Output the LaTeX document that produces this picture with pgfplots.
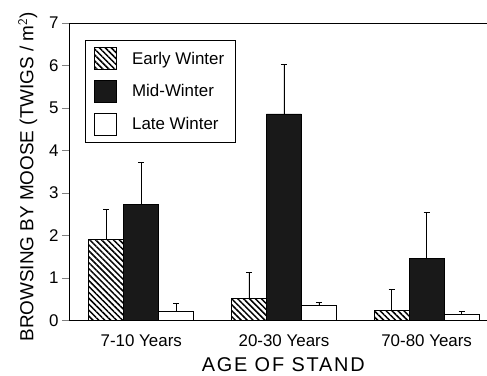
\documentclass[border=0pt]{standalone}
\usepackage{fontspec}
\setmainfont{Liberation Sans}
\usepackage{pgfplots}
\usepackage{pgfplotstable}
\pgfplotsset{compat=1.18}
\usetikzlibrary{patterns.meta}
\pgfplotstableread{
x early earlyerr mid miderr late lateerr
0 1.90 0.72 2.74 0.98 0.21 0.19
1 0.52 0.61 4.86 1.17 0.35 0.08
2 0.23 0.50 1.46 1.08 0.14 0.07
}\data
\begin{document}
\begin{tikzpicture}
\begin{axis}[
  scale only axis,
  width=417bp, height=298bp,
  xmin=-0.5, xmax=2.42,
  ymin=0, ymax=7,
  ybar=0pt, bar width=0.245,
  axis x line=box, axis y line=left,
  axis line style={-, line width=0.9pt},
  xtick={0,1,2},
  xticklabels={7-10 Years,20-30 Years,70-80 Years},
  extra x ticks={-0.5,0.5,1.5},
  extra x tick labels={},
  extra x tick style={major tick length=4bp, tick align=outside},
  xtick pos=bottom, ytick pos=left,
  ytick={0,1,...,7},
  tick align=outside,
  major tick length=8bp,
  x tick style={draw=none},
  y tick style={line width=0.8pt},
  tick label style={font=\fontsize{17}{20}\selectfont},
  /pgf/number format/assume math mode=true,
  xticklabel style={yshift=-2bp},
  xlabel={\addfontfeature{LetterSpace=9}AGE OF STAND},
  xlabel style={font=\fontsize{20}{22}\selectfont, yshift=7bp, xshift=5bp},
  ylabel={BROWSING BY MOOSE (TWIGS / m$^{\mathsf{2}}$)},
  ylabel style={font=\fontsize{19}{21}\selectfont, yshift=5bp, xshift=-5bp},
  error bars/error bar style={line width=0.6pt, black},
  error bars/error mark options={rotate=90, mark size=3bp, line width=0.8pt},
  legend style={at={(0.036,0.943)}, anchor=north west, draw=black, line width=0.9pt,
    font=\fontsize{17}{20}\selectfont, row sep=10bp, inner xsep=9bp, inner ysep=7bp,
    cells={anchor=west}},
  legend image code/.code={\draw[#1, line width=0.8pt] (0bp,-11bp) rectangle (22bp,11bp);},
]
\addplot[draw=black, line width=1pt,
  pattern={Lines[angle=-45, distance=4.2bp, line width=1.5bp]}, pattern color=black,
  error bars/.cd, y dir=plus, y explicit]
  table[x=x, y=early, y error=earlyerr]{\data};
\addlegendentry{\hspace{13bp}Early Winter}
\addplot[draw=black, line width=1pt,
  fill=black!90,
  error bars/.cd, y dir=plus, y explicit]
  table[x=x, y=mid, y error=miderr]{\data};
\addlegendentry{\hspace{13bp}Mid-Winter}
\addplot[draw=black, line width=1pt,
  fill=white,
  error bars/.cd, y dir=plus, y explicit]
  table[x=x, y=late, y error=lateerr]{\data};
\addlegendentry{\hspace{13bp}Late Winter}
\end{axis}
\path ([xshift=-70bp,yshift=-55bp]current axis.south west) rectangle ([yshift=23bp]current axis.north east);
\end{tikzpicture}
\end{document}
